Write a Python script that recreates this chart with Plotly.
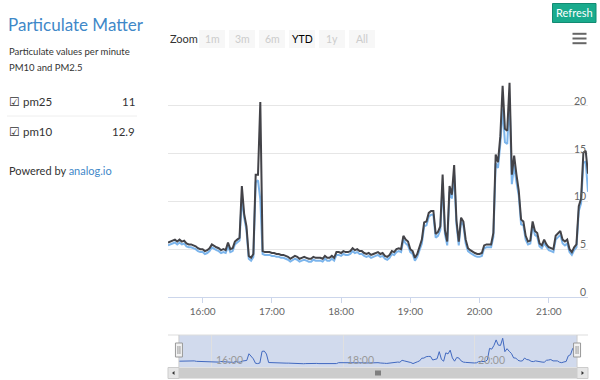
import plotly.graph_objects as go
import pandas as pd

# ---------------- data ----------------
start_time = "2016-05-12 15:30"
step = "2min"

pm10 = [5.7, 5.8, 5.9, 6.0, 5.8, 6.0, 5.8, 5.9, 5.6, 5.5,
        5.5, 5.4, 5.3, 5.1, 5.0, 5.0, 4.8, 4.9, 5.1, 5.5,
        5.3, 5.2, 5.1, 4.9, 5.0, 4.9, 5.7, 5.0, 5.1, 5.8,
        6.0, 6.2, 11.6, 8.7, 7.4, 4.3, 4.1, 4.5, 12.8, 12.8,
        20.4, 4.8, 4.7, 4.7, 4.7, 4.6, 4.6, 4.5, 4.5, 4.4,
        4.4, 4.3, 4.2, 4.0, 4.2, 4.3, 4.2, 4.0, 4.1, 4.2,
        4.1, 4.0, 4.0, 4.2, 4.1, 4.1, 4.1, 4.0, 4.3, 4.1,
        4.1, 4.3, 4.1, 4.7, 4.7, 4.6, 4.8, 4.7, 4.7, 4.8,
        5.1, 4.9, 5.0, 4.8, 4.8, 4.6, 4.5, 4.6, 4.4, 4.5,
        4.6, 4.7, 4.5, 4.6, 4.3, 4.2, 4.4, 4.8, 4.7, 5.0,
        5.1, 5.0, 6.4, 6.0, 5.8, 5.0, 4.8, 4.1, 4.5, 5.3,
        6.0, 7.8, 7.9, 8.8, 9.0, 9.0, 6.6, 6.8, 7.4, 12.8,
        7.0, 5.8, 11.6, 10.7, 13.8, 8.0, 5.8, 8.3, 7.9, 6.0,
        5.1, 4.9, 4.7, 4.6, 4.5, 4.5, 4.6, 5.4, 5.5, 5.5,
        5.5, 6.7, 14.9, 14.1, 16.8, 22.1, 17.6, 17.4, 22.4, 12.8,
        14.8, 12.8, 11.1, 8.1, 7.9, 6.4, 5.8, 5.9, 7.9, 6.9,
        6.7, 5.6, 5.4, 6.0, 5.5, 5.2, 5.1, 5.0, 6.4, 6.6,
        6.9, 6.0, 5.8, 6.0, 5.0, 4.7, 5.2, 5.5, 9.5, 10.3,
        15.1, 15.3, 12.9]

pm25 = [5.4, 5.5, 5.6, 5.7, 5.5, 5.7, 5.5, 5.6, 5.3, 5.2,
        5.2, 5.1, 5.0, 4.8, 4.7, 4.7, 4.5, 4.6, 4.8, 5.2,
        5.0, 4.9, 4.8, 4.6, 4.7, 4.6, 5.3, 4.7, 4.8, 5.5,
        5.7, 5.9, 10.4, 8.3, 7.0, 4.0, 3.8, 4.2, 12.0, 12.2,
        10.2, 4.5, 4.4, 4.4, 4.4, 4.3, 4.3, 4.2, 4.2, 4.1,
        4.1, 4.0, 3.9, 3.7, 3.9, 4.0, 3.9, 3.7, 3.8, 3.9,
        3.8, 3.7, 3.7, 3.9, 3.8, 3.8, 3.8, 3.7, 4.0, 3.8,
        3.8, 4.0, 3.8, 4.4, 4.4, 4.3, 4.5, 4.4, 4.4, 4.5,
        4.8, 4.6, 4.7, 4.5, 4.5, 4.3, 4.2, 4.3, 4.1, 4.2,
        4.3, 4.4, 4.2, 4.3, 4.0, 3.9, 4.1, 4.5, 4.4, 4.7,
        4.8, 4.7, 6.0, 5.6, 5.4, 4.7, 4.5, 3.8, 4.2, 5.0,
        5.6, 7.4, 7.5, 8.4, 8.6, 8.6, 6.2, 6.4, 7.0, 11.8,
        6.6, 5.4, 11.0, 10.3, 12.8, 7.6, 5.4, 7.9, 7.5, 5.6,
        4.8, 4.6, 4.4, 4.3, 4.2, 4.2, 4.3, 5.1, 5.2, 5.2,
        5.2, 6.3, 14.0, 13.5, 16.0, 19.7, 16.2, 16.0, 20.8, 11.8,
        13.8, 12.0, 10.6, 7.6, 7.5, 6.0, 5.5, 5.6, 7.5, 6.5,
        6.3, 5.3, 5.1, 5.6, 5.2, 4.9, 4.8, 4.7, 6.0, 6.2,
        6.5, 5.6, 5.4, 5.6, 4.7, 4.4, 4.9, 5.2, 9.0, 9.8,
        14.0, 14.2, 11.0]

y_ticks = [0, 5, 10, 15, 20, 25]
y_tick_labels = ["0", "5", "10", "15", "20", ""]
zoom_buttons = ["1m", "3m", "6m", "YTD", "1y", "All"]
active_button = "YTD"
latest_pm25 = "11"
latest_pm10 = "12.9"

times = pd.date_range(start=start_time, periods=len(pm10), freq=step)
t0, tN = times[0], times[-1]
nav_pad = pd.Timedelta("10min")
nav_ticks = pd.date_range(start=(t0 - nav_pad).ceil("2h"), end=tN + nav_pad, freq="2h")

# ---------------- helpers (pixel -> paper) ----------------
W, H = 600, 380
def px(x):
    return x / W
def py(y):
    return 1 - y / H

FONT = "Lato"
fig = go.Figure()

fig.add_trace(go.Scatter(x=times, y=pm25, mode="lines", name="pm25",
                         line=dict(color="#7cb5ec", width=2), xaxis="x", yaxis="y"))
fig.add_trace(go.Scatter(x=times, y=pm10, mode="lines", name="pm10",
                         line=dict(color="#434348", width=2), xaxis="x", yaxis="y"))
# navigator series
fig.add_trace(go.Scatter(x=times, y=pm25, mode="lines", name="nav",
                         line=dict(color="#4169c0", width=1), xaxis="x2", yaxis="y2"))

shapes = []
annotations = []

# y-axis labels (inside, above grid lines, right aligned)
for v, lab in zip(y_ticks, y_tick_labels):
    if lab:
        annotations.append(dict(text=lab, x=1, xref="x domain", y=v, yref="y",
                                xanchor="right", yanchor="middle", yshift=5, showarrow=False,
                                font=dict(family=FONT, size=10.5, color="#666666")))

# navigator tick labels
for t in nav_ticks:
    annotations.append(dict(text=t.strftime("%H:%M"), x=t, xref="x2", y=0, yref="y2 domain",
                            xanchor="left", yanchor="bottom", xshift=2, yshift=-1, showarrow=False,
                            font=dict(family=FONT, size=10.5, color="#999999")))

# navigator mask
shapes.append(dict(type="rect", xref="x2", yref="y2 domain", x0=t0, x1=tN, y0=0, y1=1,
                   fillcolor="rgba(102,133,194,0.3)", line=dict(width=0), layer="below"))
# navigator top outline
shapes.append(dict(type="line", xref="paper", yref="paper", x0=px(168), x1=px(588),
                   y0=py(335), y1=py(335), line=dict(color="#dddddd", width=1)))
shapes.append(dict(type="line", xref="x2", yref="y2 domain", x0=t0, x1=t0, y0=0, y1=1,
                   line=dict(color="#cccccc", width=1)))
shapes.append(dict(type="line", xref="x2", yref="y2 domain", x0=tN, x1=tN, y0=0, y1=1,
                   line=dict(color="#cccccc", width=1)))
# handles
for t in (t0, tN):
    shapes.append(dict(type="rect", xref="x2", xsizemode="pixel", xanchor=t, x0=-3.5, x1=3.5,
                       yref="paper", y0=py(357), y1=py(343),
                       fillcolor="#f2f2f2", line=dict(color="#999999", width=1)))
    for off in (-1, 1):
        shapes.append(dict(type="line", xref="x2", xsizemode="pixel", xanchor=t, x0=off, x1=off,
                           yref="paper", y0=py(354), y1=py(346),
                           line=dict(color="#999999", width=1)))

# scrollbar
shapes.append(dict(type="rect", xref="paper", yref="paper", x0=px(168), x1=px(588),
                   y0=py(378.5), y1=py(367.5), fillcolor="#f2f2f2", line=dict(width=0)))
shapes.append(dict(type="rect", xref="x2", yref="paper", x0=t0, x1=tN,
                   y0=py(378.5), y1=py(367.5), fillcolor="#cccccc", line=dict(width=0)))
for a, b in ((168, 179), (577, 588)):
    shapes.append(dict(type="rect", xref="paper", yref="paper", x0=px(a), x1=px(b),
                       y0=py(378.5), y1=py(367.5), fillcolor="#e6e6e6",
                       line=dict(color="#cccccc", width=1)))
shapes.append(dict(type="path", xref="paper", yref="paper",
                   path=f"M {px(172)} {py(373)} L {px(174.5)} {py(371)} L {px(174.5)} {py(375)} Z",
                   fillcolor="#333333", line=dict(width=0)))
shapes.append(dict(type="path", xref="paper", yref="paper",
                   path=f"M {px(584)} {py(373)} L {px(581.5)} {py(371)} L {px(581.5)} {py(375)} Z",
                   fillcolor="#333333", line=dict(width=0)))
for gx in (376, 378, 380):
    shapes.append(dict(type="line", xref="paper", yref="paper", x0=px(gx), x1=px(gx),
                       y0=py(375.5), y1=py(370.5), line=dict(color="#333333", width=1)))

# zoom buttons
annotations.append(dict(text="Zoom", x=px(168), y=py(39), xref="paper", yref="paper",
                        xanchor="left", yanchor="middle", showarrow=False,
                        font=dict(family=FONT, size=11, color="#333333")))
bx = 199
for lab in zoom_buttons:
    shapes.append(dict(type="rect", xref="paper", yref="paper", x0=px(bx), x1=px(bx + 26),
                       y0=py(48), y1=py(30), fillcolor="#f7f7f7", line=dict(width=0)))
    annotations.append(dict(text=lab, x=px(bx + 13), y=py(39), xref="paper", yref="paper",
                            xanchor="center", yanchor="middle", showarrow=False,
                            font=dict(family=FONT, size=10.5,
                                      color="#000000" if lab == active_button else "#cccccc")))
    bx += 30

# hamburger menu
for hy in (33.8, 38.5, 43.2):
    shapes.append(dict(type="line", xref="paper", yref="paper", x0=px(572.5), x1=px(586.5),
                       y0=py(hy), y1=py(hy), line=dict(color="#666666", width=2)))

# refresh button
shapes.append(dict(type="rect", xref="paper", yref="paper", x0=px(552.5), x1=px(596),
                   y0=py(22.5), y1=py(3.5), fillcolor="#19ab8d", line=dict(color="#128a72", width=1)))
annotations.append(dict(text="Refresh", x=px(574.3), y=py(13), xref="paper", yref="paper",
                        xanchor="center", yanchor="middle", showarrow=False,
                        font=dict(family=FONT, size=11, color="#ffffff")))

# left panel
blue = "#3f88c8"
def left_text(txt, x, y, size, color="#333333", anchor="left"):
    annotations.append(dict(text=txt, x=px(x), y=py(y), xref="paper", yref="paper",
                            xanchor=anchor, yanchor="middle", showarrow=False,
                            font=dict(family=FONT, size=size, color=color)))

left_text("Particulate Matter", 6, 24.5, 17, blue)
left_text("Particulate values per minute", 6.5, 52, 9.5)
left_text("PM10 and PM2.5", 6.5, 67, 9.5)
left_text("☑ pm25", 6.5, 101, 11.5)
left_text(latest_pm25, 136.5, 101, 11.5, anchor="right")
left_text("☑ pm10", 6.5, 131.5, 11.5)
left_text(latest_pm10, 136.5, 131.5, 11.5, anchor="right")
shapes.append(dict(type="line", xref="paper", yref="paper", x0=px(7), x1=px(137),
                   y0=py(116), y1=py(116), line=dict(color="#eeeeee", width=1)))
left_text(f"Powered by <span style='color:{blue}'>analog.io</span>", 6.5, 170, 11)

fig.update_layout(
    width=W, height=H,
    margin=dict(l=0, r=0, t=0, b=0),
    paper_bgcolor="#ffffff", plot_bgcolor="rgba(0,0,0,0)",
    showlegend=False, hovermode=False,
    font=dict(family=FONT, color="#666666"),
    shapes=shapes, annotations=annotations,
    xaxis=dict(domain=[px(168), px(588)], anchor="y", type="date",
               range=[t0, tN], showgrid=False, zeroline=False,
               showline=True, linecolor="#ccd6eb", linewidth=1,
               ticks="outside", ticklen=5, tickcolor="#ccd6eb",
               tickformat="%H:%M", dtick=3600000, tick0="2016-05-12 16:00",
               tickfont=dict(family=FONT, size=10, color="#666666")),
    yaxis=dict(domain=[py(297), py(58)], anchor="x", range=[0, 25], side="right",
               tickvals=y_ticks, showticklabels=False,
               showgrid=True, gridcolor="#e6e6e6", gridwidth=1, zeroline=False,
               showline=False, ticks=""),
    xaxis2=dict(domain=[px(168), px(588)], anchor="y2", type="date",
                range=[t0 - nav_pad, tN + nav_pad],
                showgrid=True, gridcolor="#e0e0e0", zeroline=False, showline=False,
                ticks="", showticklabels=False, dtick=7200000, tick0="2016-05-12 16:00"),
    yaxis2=dict(domain=[py(367), py(335)], anchor="x2", range=[1.5, 23],
                showgrid=False, zeroline=False, showticklabels=False, showline=False),
)

fig.write_html("out.html", config={"displayModeBar": False, "staticPlot": True})
